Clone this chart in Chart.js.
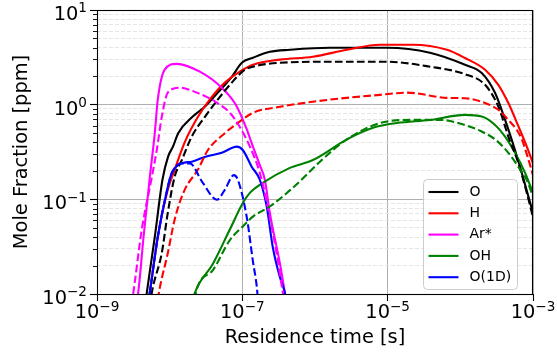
<!DOCTYPE html>
<html>
<head>
<meta charset="utf-8">
<script src="https://cdn.jsdelivr.net/npm/chart.js@4.4.0/dist/chart.umd.min.js"></script>
<style>
  html, body { margin: 0; padding: 0; background: #fff; }
</style>
</head>
<body>
<canvas id="chart" width="557" height="356"></canvas>
<script>
// residence time [s] and mole fraction [ppm]
const oTime = [4.5e-9, 4.84e-9, 6.24e-9, 7.96e-9, 9.51e-9, 1.11e-8, 1.31e-8, 2.01e-8, 3.04e-8, 4.59e-8, 7.16e-8, 9.84e-8, 1.40e-7, 2.39e-7, 4.51e-7, 1.60e-6, 9.77e-6, 3.82e-5, 1.16e-4, 1.97e-4, 3.01e-4, 4.13e-4, 5.66e-4, 7.02e-4, 8.65e-4, 1e-3];
const oSolid = [0.0068, 0.0103, 0.040, 0.161, 0.283, 0.36, 0.50, 0.73, 0.95, 1.34, 1.97, 2.77, 3.13, 3.62, 3.80, 3.99, 3.99, 3.54, 2.64, 2.16, 1.33, 0.69, 0.33, 0.19, 0.107, 0.072];
const oDashTime = [5.3e-9, 5.85e-9, 7.78e-9, 9.42e-9, 1.17e-8, 1.47e-8, 2.01e-8, 3.04e-8, 4.59e-8, 7.16e-8, 1.08e-7, 1.40e-7, 3.29e-7, 1.60e-6, 9.77e-6, 3.82e-5, 1.16e-4, 2.19e-4, 3.33e-4, 4.58e-4, 6.30e-4, 8.22e-4, 1e-3];
const oDashed = [0.0075, 0.0116, 0.027, 0.072, 0.173, 0.26, 0.46, 0.74, 1.13, 1.71, 2.34, 2.52, 2.77, 2.84, 2.84, 2.52, 2.1, 1.62, 0.957, 0.46, 0.24, 0.117, 0.065];

const hTime = [4.99e-9, 5.32e-9, 6.86e-9, 9.42e-9, 1.17e-8, 1.61e-8, 2.44e-8, 3.80e-8, 5.74e-8, 8.67e-8, 1.40e-7, 3.29e-7, 9.35e-7, 2.75e-6, 7.82e-6, 2.23e-5, 6.55e-5, 1.16e-4, 2.19e-4, 3.33e-4, 4.58e-4, 6.30e-4, 8.22e-4, 1e-3];
const hSolid = [0.0075, 0.0103, 0.040, 0.126, 0.205, 0.40, 0.74, 1.21, 1.71, 2.17, 2.64, 2.99, 3.21, 3.80, 4.30, 4.30, 3.80, 3.11, 2.34, 1.62, 1.04, 0.59, 0.36, 0.24];
const hDashTime = [6.86e-9, 7.31e-9, 9.42e-9, 1.17e-8, 1.61e-8, 2.44e-8, 3.35e-8, 5.74e-8, 8.67e-8, 1.40e-7, 3.29e-7, 1.60e-6, 7.82e-6, 1.85e-5, 6.55e-5, 1.16e-4, 2.19e-4, 3.33e-4, 4.58e-4, 5.98e-4, 7.02e-4, 8.22e-4, 1e-3];
const hDashed = [0.0087, 0.0116, 0.027, 0.061, 0.126, 0.205, 0.33, 0.50, 0.64, 0.82, 0.95, 1.13, 1.27, 1.34, 1.18, 1.17, 1.04, 0.883, 0.69, 0.54, 0.43, 0.30, 0.18];

const arTime = [3.41e-9, 3.64e-9, 4.40e-9, 5.32e-9, 6.24e-9, 6.86e-9, 8.55e-9, 1.25e-8, 2.60e-8, 5.21e-8, 8.13e-8, 1.12e-7, 1.40e-7, 1.74e-7, 2.04e-7, 2.39e-7, 3.29e-7, 3.85e-7, 4.10e-7];
const arSolid = [0.0077, 0.0095, 0.042, 0.169, 0.50, 1.13, 2.34, 2.70, 2.23, 1.51, 1.0, 0.58, 0.36, 0.23, 0.161, 0.072, 0.021, 0.0103, 0.0077];
const arDashTime = [3.0e-9, 3.30e-9, 4.13e-9, 5.66e-9, 6.64e-9, 7.78e-9, 9.42e-9, 1.38e-8, 2.36e-8, 4.46e-8, 6.73e-8, 9.25e-8, 1.27e-7, 1.74e-7, 2.24e-7, 2.99e-7, 3.61e-7, 3.85e-7];
const arDashed = [0.0077, 0.0131, 0.048, 0.169, 0.33, 0.74, 1.34, 1.51, 1.34, 1.05, 0.82, 0.58, 0.36, 0.19, 0.083, 0.026, 0.0103, 0.0077];

const ohTime = [2.01e-8, 2.22e-8, 3.96e-8, 6.73e-8, 1.02e-7, 1.27e-7, 1.91e-7, 4.51e-7, 9.35e-7, 2.75e-6, 6.27e-6, 1.34e-5, 3.82e-5, 1.16e-4, 1.97e-4, 3.01e-4, 4.13e-4, 5.66e-4, 7.78e-4, 1e-3];
const ohSolid = [0.0077, 0.0103, 0.021, 0.048, 0.092, 0.117, 0.149, 0.215, 0.26, 0.43, 0.57, 0.64, 0.69, 0.78, 0.75, 0.61, 0.46, 0.31, 0.19, 0.117];
const ohDashTime = [2.22e-8, 2.34e-8, 3.96e-8, 6.73e-8, 1.02e-7, 1.41e-7, 2.39e-7, 4.06e-7, 6.19e-7, 1.17e-6, 2.75e-6, 7.82e-6, 2.23e-5, 5.25e-5, 1.16e-4, 1.97e-4, 3.01e-4, 4.58e-4, 6.30e-4, 8.22e-4, 1e-3];
const ohDashed = [0.0087, 0.011, 0.018, 0.037, 0.052, 0.066, 0.084, 0.116, 0.155, 0.25, 0.43, 0.64, 0.69, 0.69, 0.61, 0.52, 0.43, 0.31, 0.22, 0.16, 0.107];

const o1dTime = [4.99e-9, 5.32e-9, 6.86e-9, 9.42e-9, 1.07e-8, 1.47e-8, 2.01e-8, 3.04e-8, 5.21e-8, 8.40e-8, 1.02e-7, 1.35e-7, 1.74e-7, 2.17e-7, 2.63e-7, 3.29e-7, 3.85e-7, 4.10e-7];
const o1dSolid = [0.0077, 0.0103, 0.040, 0.135, 0.19, 0.24, 0.25, 0.28, 0.31, 0.36, 0.33, 0.22, 0.161, 0.083, 0.031, 0.015, 0.0103, 0.0077];
const o1dDashTime = [4.99e-9, 5.32e-9, 6.86e-9, 9.42e-9, 1.07e-8, 1.47e-8, 1.89e-8, 2.86e-8, 4.46e-8, 5.74e-8, 7.64e-8, 8.67e-8, 1.15e-7, 1.40e-7, 1.58e-7, 1.64e-7];
const o1dDashed = [0.0077, 0.0103, 0.040, 0.135, 0.19, 0.24, 0.24, 0.149, 0.099, 0.126, 0.18, 0.161, 0.065, 0.022, 0.012, 0.0087];

// axis ticks
const xTickValues = [1e-9, 1e-7, 1e-5, 1e-3];
const yDecades = [1e-2, 1e-1, 1e0, 1e1];
const yMinorSteps = [2, 3, 4, 5, 6, 7, 8, 9];

const species = [
  {label: 'O', color: '#000000', t: oTime, v: oSolid, td: oDashTime, vd: oDashed},
  {label: 'H', color: '#ff0000', t: hTime, v: hSolid, td: hDashTime, vd: hDashed},
  {label: 'Ar*', color: '#ff00ff', t: arTime, v: arSolid, td: arDashTime, vd: arDashed},
  {label: 'OH', color: '#008000', t: ohTime, v: ohSolid, td: ohDashTime, vd: ohDashed},
  {label: 'O(1D)', color: '#0000ff', t: o1dTime, v: o1dSolid, td: o1dDashTime, vd: o1dDashed},
];

const toPoints = (t, v) => t.map((x, i) => ({x: x, y: v[i]}));

const datasets = [];
species.forEach(s => datasets.push({label: s.label, data: toPoints(s.t, s.v), borderColor: s.color, borderDash: []}));
species.forEach(s => datasets.push({label: s.label + ' dashed', data: toPoints(s.td, s.vd), borderColor: s.color, borderDash: [7.7, 3.3]}));
datasets.forEach((d, i) => Object.assign(d, {
  order: -i, // later series on top, like matplotlib
  borderWidth: 2.1,
  pointRadius: 0,
  fill: false,
  clip: 0,
  cubicInterpolationMode: 'monotone',
  borderCapStyle: 'butt',
  borderJoinStyle: 'round',
}));

const FONT = 'DejaVu Sans';
const LABEL_SIZE = 19.4;
Chart.defaults.font.family = FONT;
Chart.defaults.color = '#000';

// "10" with a raised, smaller exponent, like matplotlib's log tick labels
function drawPow(ctx, value, x, y, align) {
  const exp = String(Math.round(Math.log10(value))).replace('-', '\u2212');
  ctx.font = LABEL_SIZE + 'px "' + FONT + '"';
  const wBase = ctx.measureText('10').width;
  ctx.font = (LABEL_SIZE * 0.7) + 'px "' + FONT + '"';
  const wExp = ctx.measureText(exp).width;
  const total = wBase + wExp;
  const sx = align === 'right' ? x - total : x - total / 2;
  ctx.textBaseline = 'alphabetic';
  ctx.textAlign = 'left';
  ctx.font = LABEL_SIZE + 'px "' + FONT + '"';
  ctx.fillText('10', sx, y);
  ctx.font = (LABEL_SIZE * 0.7) + 'px "' + FONT + '"';
  ctx.fillText(exp, sx + wBase, y - 7.6);
}

const framePlugin = {
  id: 'frame',
  afterDraw(chart) {
    const ctx = chart.ctx;
    const area = chart.chartArea;
    const xScale = chart.scales.x;
    const yScale = chart.scales.y;
    ctx.save();

    // minor ticks on the y axis (shorter than the major ones)
    ctx.strokeStyle = '#000';
    ctx.lineWidth = 0.9;
    yScale.ticks.forEach((tick, i) => {
      if (tick.major) return;
      const y = Math.round(yScale.getPixelForTick(i)) + 0.5;
      ctx.beginPath();
      ctx.moveTo(area.left - 4, y);
      ctx.lineTo(area.left, y);
      ctx.stroke();
    });

    // box round the axes
    ctx.lineWidth = 1.1;
    ctx.strokeRect(Math.round(area.left) + 0.5, Math.round(area.top) + 0.5,
                   Math.round(area.right - area.left) - 1, Math.round(area.bottom - area.top));

    // tick labels
    ctx.fillStyle = '#000';
    xScale.ticks.forEach((tick, i) => {
      drawPow(ctx, tick.value, xScale.getPixelForTick(i), area.bottom + 24.3, 'center');
    });
    yScale.ticks.forEach((tick, i) => {
      if (!tick.major) return;
      drawPow(ctx, tick.value, area.left - 10, yScale.getPixelForTick(i) + 10, 'right');
    });

    // legend, lower right inside the axes
    const lw = 94, lh = 110;
    const lx = Math.round(area.right) - 15.5 - lw;
    const ly = Math.round(area.bottom) - 4.5 - lh;
    ctx.beginPath();
    ctx.roundRect(lx, ly, lw, lh, 4);
    ctx.fillStyle = 'rgba(255,255,255,0.8)';
    ctx.fill();
    ctx.strokeStyle = '#cccccc';
    ctx.lineWidth = 1;
    ctx.stroke();
    ctx.font = '14px "' + FONT + '"';
    ctx.textBaseline = 'middle';
    species.forEach((s, i) => {
      const y = ly + 12.5 + i * 21.3;
      ctx.strokeStyle = s.color;
      ctx.lineWidth = 2.1;
      ctx.beginPath();
      ctx.moveTo(lx + 5, y);
      ctx.lineTo(lx + 35, y);
      ctx.stroke();
      ctx.fillStyle = '#000';
      ctx.fillText(s.label, lx + 46, y);
    });
    ctx.restore();
  }
};

new Chart(document.getElementById('chart'), {
  type: 'line',
  data: {datasets: datasets},
  plugins: [framePlugin],
  options: {
    responsive: false,
    animation: false,
    events: [],
    layout: {padding: {left: 0, right: 24, top: 10, bottom: 0}},
    plugins: {
      legend: {display: false},
      tooltip: {enabled: false},
    },
    scales: {
      x: {
        type: 'logarithmic',
        min: 1e-9,
        max: 1e-3,
        afterBuildTicks: scale => {
          scale.ticks = xTickValues.map(v => ({value: v, major: true}));
        },
        afterFit: scale => {
          scale.height = 62;
          scale.paddingLeft = 0;
          scale.paddingRight = 0;
        },
        ticks: {display: false, autoSkip: false},
        grid: {
          color: '#b0b0b0',
          lineWidth: 1,
          tickLength: 7,
          tickColor: '#000',
          tickWidth: 1.1,
        },
        border: {display: false},
        title: {
          display: true,
          text: 'Residence time [s]',
          font: {size: LABEL_SIZE},
          padding: {top: 0, bottom: 6},
        },
      },
      y: {
        type: 'logarithmic',
        min: 1e-2,
        max: 1e1,
        afterBuildTicks: scale => {
          const ticks = [];
          yDecades.forEach((d, k) => {
            ticks.push({value: d, major: true});
            if (k < yDecades.length - 1) {
              yMinorSteps.forEach(m => ticks.push({value: m * d, major: false}));
            }
          });
          scale.ticks = ticks;
        },
        afterFit: scale => {
          scale.width = 97;
          scale.paddingTop = 0;
          scale.paddingBottom = 0;
        },
        ticks: {display: false, autoSkip: false},
        grid: {
          color: ctx => ctx.tick && ctx.tick.major ? '#b0b0b0' : '#e6e6e6',
          lineWidth: 1,
          tickLength: 7,
          tickColor: '#000',
          tickWidth: ctx => ctx.tick && ctx.tick.major ? 1.1 : 0,
        },
        border: {
          display: false,
          dash: ctx => ctx.tick && !ctx.tick.major ? [4, 2] : [],
        },
        title: {
          display: true,
          text: 'Mole Fraction [ppm]',
          font: {size: LABEL_SIZE},
          padding: {top: 10, bottom: 0},
        },
      },
    },
  },
});
</script>
</body>
</html>
